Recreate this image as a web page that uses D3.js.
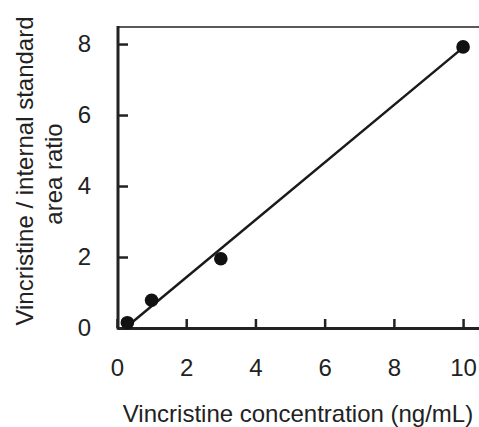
<!DOCTYPE html>
<html><head><meta charset="utf-8">
<script src="https://cdn.jsdelivr.net/npm/d3@7"></script>
<style>body{margin:0;background:#fff}svg{display:block}text{font-family:"Liberation Sans",Arial,sans-serif;fill:#222}</style>
</head><body><svg id="c" width="479" height="427"></svg>
<script>
const concentrations = [0.3, 1, 3, 10];
const areaRatios = [0.15, 0.78, 1.95, 7.92];
const fitX = [0.3, 10];
const fitY = [0.05, 7.9];
const xTicks = [0, 2, 4, 6, 8, 10];
const yTicks = [0, 2, 4, 6, 8];

const svg = d3.select("#c");
const x = d3.scaleLinear().domain([0, 10.46]).range([117, 479]);
const y = d3.scaleLinear().domain([0, 8.48]).range([328, 27]);

// top border
svg.append("line").attr("x1", 117).attr("x2", 479).attr("y1", 27).attr("y2", 27)
  .attr("stroke", "#222").attr("stroke-width", 1.5);

const xAxis = svg.append("g").attr("transform", "translate(0,328)")
  .call(d3.axisBottom(x).tickValues(xTicks).tickSizeInner(-9).tickSizeOuter(0).tickPadding(31));
xAxis.select(".domain").attr("stroke", "#222").attr("stroke-width", 3);
xAxis.selectAll(".tick line").attr("stroke", "#222").attr("stroke-width", 2.5);
xAxis.selectAll("text").attr("font-size", 24).attr("fill", "#222").attr("font-family", "Liberation Sans, Arial, sans-serif");

const yAxis = svg.append("g").attr("transform", "translate(118,0)")
  .call(d3.axisLeft(y).tickValues(yTicks).tickSizeInner(-10).tickSizeOuter(0).tickPadding(27));
yAxis.select(".domain").attr("stroke", "#222").attr("stroke-width", 3)
  .attr("d", "M0,26V329.5");
yAxis.selectAll(".tick line").attr("stroke", "#222").attr("stroke-width", 2.5);
yAxis.selectAll("text").attr("font-size", 24).attr("fill", "#222").attr("font-family", "Liberation Sans, Arial, sans-serif");

// fit line
svg.append("path").datum(fitX.map((d, i) => [d, fitY[i]]))
  .attr("d", d3.line().x(d => x(d[0])).y(d => y(d[1])))
  .attr("stroke", "#1a1a1a").attr("stroke-width", 2.5).attr("fill", "none");

svg.selectAll("circle.pt").data(concentrations).join("circle")
  .attr("class", "pt")
  .attr("cx", d => x(d)).attr("cy", (d, i) => y(areaRatios[i])).attr("r", 6.8)
  .attr("fill", "#111");

svg.append("text").attr("x", 298).attr("y", 422).attr("text-anchor", "middle")
  .attr("font-size", 24).text("Vincristine concentration (ng/mL)");

svg.append("text").attr("transform", "translate(33,171) rotate(-90)").attr("text-anchor", "middle")
  .attr("font-size", 24).text("Vincristine / internal standard");
svg.append("text").attr("transform", "translate(62,174) rotate(-90)").attr("text-anchor", "middle")
  .attr("font-size", 24).text("area ratio");
</script></body></html>
